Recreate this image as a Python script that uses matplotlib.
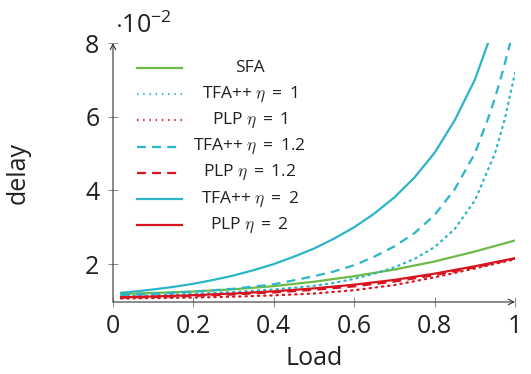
import matplotlib
matplotlib.use("Agg")
import matplotlib.pyplot as plt
from matplotlib.lines import Line2D

plt.rcParams['font.family'] = ['Open Sans', 'DejaVu Sans']
plt.rcParams['mathtext.fontset'] = 'custom'
plt.rcParams['mathtext.rm'] = 'Open Sans'
plt.rcParams['mathtext.it'] = 'Open Sans:italic'

# ---- data (delay in units of 1e-2) ----
x_sfa = [0.02, 0.1, 0.2, 0.3, 0.4, 0.5, 0.6, 0.7, 0.8, 0.9, 1.0]
y_sfa = [1.19, 1.215, 1.255, 1.315, 1.40, 1.52, 1.67, 1.85, 2.07, 2.34, 2.64]

x_tfa1 = [0.02, 0.1, 0.2, 0.3, 0.4, 0.5, 0.55, 0.6, 0.65, 0.7, 0.75, 0.8, 0.85, 0.9, 0.95, 0.975, 1.0]
y_tfa1 = [1.13, 1.15, 1.19, 1.24, 1.31, 1.41, 1.49, 1.60, 1.74, 1.91, 2.14, 2.46, 2.95, 3.72, 5.00, 5.95, 7.19]

x_plp1 = [0.02, 0.1, 0.2, 0.3, 0.4, 0.5, 0.6, 0.7, 0.8, 0.9, 1.0]
y_plp1 = [1.065, 1.075, 1.09, 1.115, 1.15, 1.20, 1.29, 1.43, 1.64, 1.88, 2.13]

x_tfa12 = [0.02, 0.1, 0.2, 0.3, 0.4, 0.5, 0.55, 0.6, 0.65, 0.7, 0.75, 0.8, 0.85, 0.9, 0.933, 0.95, 0.97, 0.988, 1.0]
y_tfa12 = [1.16, 1.19, 1.25, 1.33, 1.45, 1.67, 1.80, 1.97, 2.20, 2.48, 2.84, 3.33, 4.03, 5.00, 5.95, 6.50, 7.25, 8.00, 8.50]

x_plp12 = [0.02, 0.1, 0.2, 0.3, 0.4, 0.5, 0.6, 0.7, 0.8, 0.9, 1.0]
y_plp12 = [1.09, 1.105, 1.135, 1.175, 1.23, 1.30, 1.395, 1.525, 1.70, 1.91, 2.15]

x_tfa2 = [0.02, 0.05, 0.1, 0.15, 0.2, 0.25, 0.3, 0.35, 0.4, 0.45, 0.5, 0.55, 0.6, 0.65, 0.7, 0.75, 0.8, 0.85, 0.9, 0.933, 0.95]
y_tfa2 = [1.22, 1.25, 1.31, 1.38, 1.465, 1.57, 1.69, 1.835, 2.00, 2.20, 2.42, 2.69, 3.00, 3.37, 3.81, 4.35, 5.02, 5.90, 7.00, 8.00, 8.60]

x_plp2 = [0.02, 0.1, 0.2, 0.3, 0.4, 0.5, 0.6, 0.7, 0.8, 0.9, 1.0]
y_plp2 = [1.10, 1.12, 1.155, 1.20, 1.26, 1.34, 1.44, 1.57, 1.74, 1.94, 2.16]

x_ticks = [0, 0.2, 0.4, 0.6, 0.8, 1]
x_ticklabels = ['0', '0.2', '0.4', '0.6', '0.8', '1']
y_ticks = [2, 4, 6, 8]
y_ticklabels = ['2', '4', '6', '8']

GREEN = '#6cbb45'
CYAN = '#2bb5c8'
RED = '#d8141f'
LW = 1.6
DOT = (0, (0.6, 2.2))
DASH = (0, (4.0, 2.8))

EQ = ' \u2009=\u2009 '
series = [
    (x_sfa, y_sfa, GREEN, '-', 'SFA'),
    (x_tfa1, y_tfa1, CYAN, DOT, r'TFA++ $\eta$' + EQ + '1'),
    (x_plp1, y_plp1, RED, DOT, r'PLP $\eta$' + EQ + '1'),
    (x_tfa12, y_tfa12, CYAN, DASH, r'TFA++ $\eta$' + EQ + '1.2'),
    (x_plp12, y_plp12, RED, DASH, r'PLP $\eta$' + EQ + '1.2'),
    (x_tfa2, y_tfa2, CYAN, '-', r'TFA++ $\eta$' + EQ + '2'),
    (x_plp2, y_plp2, RED, '-', r'PLP $\eta$' + EQ + '2'),
]

fig = plt.figure(figsize=(5.31, 3.74), dpi=100)
ax = fig.add_axes([113/531, 1 - 302/374, 402/531, 259/374])

for xs, ys, c, ls, lab in series:
    ax.plot(xs, ys, color=c, linestyle=ls, lw=LW, solid_joinstyle='round',
            dash_capstyle='round' if ls is DOT else 'butt')

ax.set_xlim(0, 1.0)
ax.set_ylim(0.97, 8)
for s in ax.spines.values():
    s.set_visible(False)

ax.set_xticks(x_ticks)
ax.set_xticklabels(x_ticklabels)
ax.set_yticks(y_ticks)
ax.set_yticklabels(y_ticklabels)
ax.tick_params(direction='inout', length=7.5, width=0.7, color='#8a8a8a',
               labelsize=18, labelcolor='#231f20')
ax.tick_params(axis='x', pad=5)
ax.tick_params(axis='y', pad=6)

axis_col = '#333333'
ax.annotate('', xy=(1.0, 0), xytext=(0, 0), xycoords='axes fraction',
            arrowprops=dict(arrowstyle='->', lw=0.8, color=axis_col, shrinkA=0, shrinkB=0))
ax.annotate('', xy=(0, 1.0), xytext=(0, 0), xycoords='axes fraction',
            arrowprops=dict(arrowstyle='->', lw=0.8, color=axis_col, shrinkA=0, shrinkB=0))

ax.set_xlabel('Load', fontsize=18, color='#231f20', va='baseline')
ax.xaxis.set_label_coords(0.5, (302 - 365) / 259)
ax.set_ylabel('delay', fontsize=18, color='#231f20')
ax.yaxis.set_label_coords(-0.205, 0.5)

fig.text(115/531, 1 - 33/374, r'$\cdot 10^{-2}$', fontsize=18, color='#231f20',
         ha='left', va='baseline')

# legend drawn manually (centered text like pgfplots)
y0 = 0.903
dy = 0.101
for i, (xs, ys, c, ls, lab) in enumerate(series):
    yy = y0 - i * dy
    ax.add_line(Line2D([0.06, 0.172], [yy, yy], transform=ax.transAxes, color=c,
                       linestyle=ls, lw=LW, clip_on=False))
    ax.text(0.34, yy, lab, transform=ax.transAxes, ha='center',
            va='center', fontsize=12.5, color='#231f20', math_fontfamily='cm')

fig.savefig('out.png', dpi=100)
